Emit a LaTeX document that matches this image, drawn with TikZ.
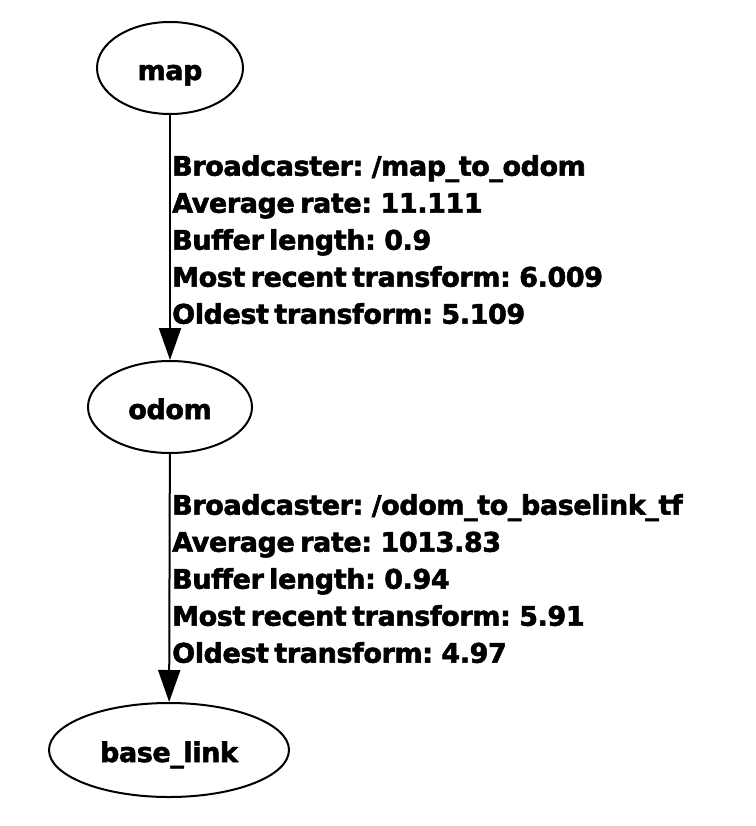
\documentclass[tikz,border=0pt]{standalone}
\usepackage{fontspec}
\setmainfont{DejaVu Sans}[BoldFeatures={FakeBold=2,LetterSpace=-1.5,WordSpace=0.6}]
\usetikzlibrary{shapes.geometric,arrows.meta}
\tikzset{
  frame/.style={draw=black, line width=2pt, ellipse, inner sep=0pt,
    text height=24pt, text depth=0pt,
    font=\fontsize{27}{32}\selectfont\bfseries},
  arr/.style={draw=black, line width=2pt, -{Triangle[length=32pt,width=22pt]}},
  lbl/.style={anchor=north west, inner sep=0pt, align=left,
    font=\fontsize{27}{37}\selectfont\bfseries}
}
\begin{document}
\begin{tikzpicture}[x=1pt,y=-1pt]
\useasboundingbox (0,0) rectangle (755,826);
\node[frame, minimum width=146pt, minimum height=92pt] (map) at (170,68) {map};
\node[frame, minimum width=164pt, minimum height=92pt] (odom) at (170,407) {odom};
\node[frame, minimum width=240pt, minimum height=94pt] (base) at (169,750) {base\_link};
\draw[arr] (map) -- (odom);
\draw[arr] (odom) -- (base);
\node[lbl] (l1) at (172,155) {Broadcaster: /map\_to\_odom\\Average rate: 11.111\\Buffer length: 0.9\\Most recent transform: 6.009\\Oldest transform: 5.109};
\node[lbl] (l2) at (172,494) {Broadcaster: /odom\_to\_baselink\_tf\\Average rate: 1013.83\\Buffer length: 0.94\\Most recent transform: 5.91\\Oldest transform: 4.97};
\end{tikzpicture}
\end{document}
